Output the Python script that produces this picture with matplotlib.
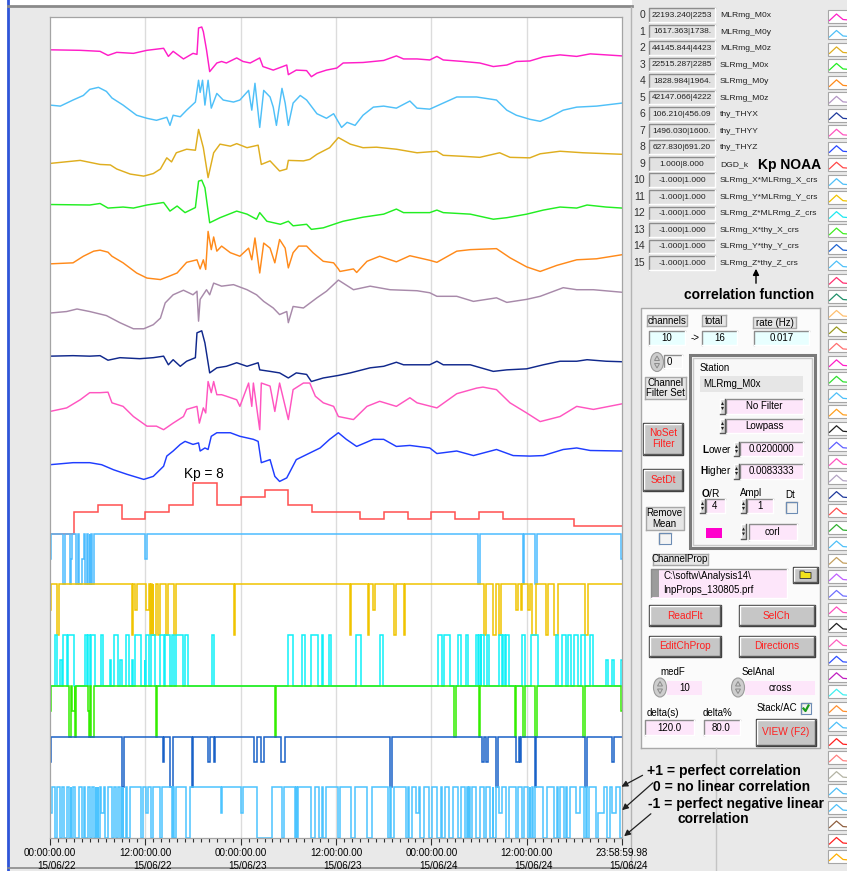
import numpy as np
import matplotlib.pyplot as plt
from matplotlib.patches import Rectangle, Ellipse, Polygon

plt.rcParams["font.family"] = ["Liberation Sans", "DejaVu Sans"]
plt.rcParams["mathtext.fontset"] = "custom"
plt.rcParams["mathtext.rm"] = "Liberation Sans"
plt.rcParams["mathtext.bf"] = "Liberation Sans:bold"

W, H = 847, 871
SPAN = 72.0          # hours on the time axis (15/06/22 00:00 -> 15/06/24 23:59)
BAND = 50.72         # pixel height of one channel strip

# ---------------------------------------------------------------- channels
chan_names = ["MLRmg_M0x", "MLRmg_M0y", "MLRmg_M0z", "SLRmg_M0x", "SLRmg_M0y",
              "SLRmg_M0z", "thy_THYX", "thy_THYY", "thy_THYZ", "DGD_k",
              "SLRmg_X*MLRmg_X_crs", "SLRmg_Y*MLRmg_Y_crs", "SLRmg_Z*MLRmg_Z_crs",
              "SLRmg_X*thy_X_crs", "SLRmg_Y*thy_Y_crs", "SLRmg_Z*thy_Z_crs"]
chan_ranges = ["22193.240|2253", "1617.363|1738.", "44145.844|4423", "22515.287|2285",
               "1828.984|1964.", "42147.066|4222", "106.210|456.09", "1496.030|1600.",
               "627.830|691.20", "1.000|8.000"] + ["-1.000|1.000"] * 6
chan_colors = ["#ff1ec8", "#4fc0f8", "#dfae1f", "#22ee22", "#ff8a1a", "#a88aaa",
               "#10288c", "#ff55c0", "#1f3dff", "#ff5050", "#4cbcff", "#f0c400",
               "#10f0f8", "#33ee00", "#1a62c8", "#4cc4ff"]
legend_colors = ["#ff1ec8", "#4fc0f8", "#dfae1f", "#22ee22", "#ff8a1a", "#b496c4",
                 "#203a9c", "#ff55c0", "#2a48ff", "#ff4848", "#4fc0f8", "#f0c400",
                 "#20e8f0", "#40ee20", "#2064d0", "#4fc0f8", "#ff3070", "#20906a",
                 "#ffc070", "#9a9a20", "#ff7070", "#ff1ec8", "#30e030", "#4fc0f8",
                 "#ffa020", "#202020", "#6060ff", "#ff55c0", "#b4a4c4", "#203a9c",
                 "#ff5050", "#30b030", "#4fc0f8", "#c4a060", "#c060ff", "#7070ff",
                 "#ff50c0", "#202020", "#ff60c0", "#3050ff", "#c020c0", "#40f0f0",
                 "#ff9030", "#4fc0f8", "#ff2020", "#ff8080", "#b4b4a4", "#4fc0f8",
                 "#4fc0f8", "#906040", "#ff2020", "#ffb000"]

# time-axis ticks
tick_hours = [0, 12, 24, 36, 48, 60, 72]
tick_times = ["00:00:00.00", "12:00:00.00", "00:00:00.00", "12:00:00.00",
              "00:00:00.00", "12:00:00.00", "23:58:59.98"]
tick_dates = ["15/06/22", "15/06/22", "15/06/23", "15/06/23",
              "15/06/24", "15/06/24", "15/06/24"]

# ------------------------------------------------ magnetometer traces
# hours and level in percent of the channel's min|max range
h0 = [0, 3.8, 6.3, 7.3, 8.4, 10.5, 12.2, 14.3, 14.9, 15.5, 16.8, 18.0, 18.5, 18.7,
      19.1, 19.3, 19.7, 20.1, 21.0, 21.6, 22.2, 23.5, 24.3, 25.2, 26.4, 26.8, 28.1,
      29.8, 30.0, 31.0, 32.3, 32.9, 33.6, 34.8, 36.1, 36.9, 39.4, 42.0, 43.6, 44.5,
      46.2, 47.8, 48.7, 49.5, 52.0, 54.1, 55.8, 57.5, 58.7, 60.4, 62.1, 64.2, 66.3,
      68.0, 70.0, 72.0]
v0 = [54, 53, 51, 43, 49, 47, 53, 57, 41, 51, 36, 47, 45, 97, 99, 90, 54, 11, 28, 31,
      28, 38, 31, 28, 38, 21, 14, 24, 5, 14, 13, 1, 8, 14, 18, 28, 29, 33, 42, 36, 36,
      34, 41, 34, 31, 28, 21, 24, 31, 32, 40, 44, 41, 46, 44, 42]

h1 = [0, 1.3, 2.9, 4.2, 5.0, 6.1, 7.1, 7.8, 9.2, 10.9, 12.2, 13.4, 14.7, 15.1, 15.5,
      16.4, 17.2, 18.3, 18.7, 18.9, 19.2, 19.5, 19.9, 20.3, 21.0, 21.8, 23.1, 23.9,
      25.0, 25.4, 25.8, 26.4, 26.9, 27.7, 28.1, 28.5, 29.2, 29.6, 30.0, 30.6, 31.5,
      32.3, 33.6, 34.8, 35.7, 36.7, 37.4, 38.4, 39.4, 40.7, 42.0, 43.6, 45.3, 46.2,
      47.8, 49.5, 51.2, 53.7, 56.2, 57.5, 58.7, 60.4, 61.7, 62.9, 64.6, 66.3, 68.8, 72.0]
v1 = [45, 43, 55, 64, 76, 80, 72, 59, 45, 25, 19, 15, 21, 5, 25, 22, 35, 51, 94, 70,
      94, 45, 94, 39, 68, 55, 51, 55, 74, 35, 88, 1, 74, 61, 41, 5, 78, 49, 5, 49, 64,
      55, 28, 19, 28, 1, 11, 5, 25, 41, 43, 39, 53, 39, 37, 49, 61, 61, 55, 35, 25, 17,
      13, 21, 35, 41, 43, 49]

h2 = [0, 3.8, 6.3, 7.6, 8.4, 10.1, 11.8, 13.0, 13.9, 14.7, 15.3, 15.9, 17.2, 18.3,
      18.7, 19.3, 19.9, 20.6, 21.4, 22.7, 23.5, 24.8, 26.2, 26.6, 27.7, 28.9, 29.8,
      30.0, 31.9, 32.7, 33.6, 35.2, 36.3, 37.8, 39.4, 41.1, 43.6, 46.2, 48.7, 49.5,
      52.0, 54.1, 56.6, 57.9, 60.4, 61.7, 64.2, 67.1, 72.0]
v2 = [30, 36, 28, 27, 19, 9, 5, 10, 19, 41, 33, 51, 58, 56, 97, 61, 2, 51, 68, 64, 69,
      61, 66, 28, 35, 15, 19, 36, 35, 38, 48, 61, 81, 68, 61, 62, 58, 51, 54, 46, 44,
      42, 51, 42, 41, 49, 54, 51, 48]

h3 = [0, 5.0, 6.3, 7.3, 9.2, 10.5, 12.2, 14.3, 15.1, 16.0, 17.0, 18.3, 18.7, 19.1,
      19.5, 20.1, 21.4, 23.5, 24.8, 26.0, 26.4, 27.3, 29.0, 30.0, 30.6, 32.3, 32.9,
      34.4, 36.3, 36.9, 39.4, 42.0, 43.6, 44.5, 47.8, 48.7, 49.5, 52.9, 55.8, 57.5,
      60.0, 62.1, 64.2, 66.3, 67.6, 70.0, 72.0]
v3 = [49, 48, 51, 42, 44, 42, 48, 53, 36, 46, 33, 43, 95, 97, 82, 13, 23, 36, 30, 20,
      33, 16, 10, 16, 7, 10, 0, 3, 13, 16, 24, 30, 40, 33, 33, 38, 33, 30, 20, 23, 30,
      38, 44, 42, 48, 44, 42]

h4 = [0, 2.9, 4.2, 5.5, 6.3, 7.3, 7.8, 9.2, 10.9, 12.2, 13.9, 14.9, 16.0, 17.2, 18.5,
      18.9, 19.3, 19.6, 19.9, 20.3, 20.6, 21.0, 21.6, 22.7, 23.9, 25.0, 25.4, 25.8,
      26.4, 26.9, 27.7, 28.3, 28.9, 29.6, 30.0, 30.6, 31.3, 32.3, 33.1, 34.4, 35.7,
      36.3, 36.5, 38.2, 38.6, 39.9, 41.5, 43.6, 45.3, 47.8, 48.7, 51.2, 52.9, 56.2,
      57.9, 60.0, 61.7, 63.8, 66.3, 68.8, 72.0]
v4 = [32, 34, 47, 57, 59, 55, 47, 34, 14, 4, 1, 7, 14, 35, 40, 22, 40, 21, 96, 60, 85,
      57, 67, 54, 47, 63, 40, 83, 14, 73, 63, 34, 80, 63, 24, 54, 67, 67, 54, 37, 34,
      22, 17, 22, 15, 37, 47, 36, 48, 39, 35, 57, 60, 62, 44, 26, 17, 29, 40, 42, 50]

h5 = [0, 2.1, 3.4, 5.0, 7.1, 8.8, 10.5, 11.8, 13.0, 13.9, 14.5, 15.5, 16.8, 18.0,
      18.5, 18.7, 18.9, 19.7, 20.1, 20.6, 21.6, 23.1, 24.8, 26.0, 26.9, 28.1, 28.9,
      29.8, 30.0, 30.6, 31.9, 33.6, 34.8, 36.3, 38.2, 40.3, 42.8, 46.2, 47.8, 48.7,
      51.2, 53.3, 56.2, 57.5, 60.0, 61.7, 64.6, 66.3, 68.4, 72.0]
v5 = [35, 38, 43, 38, 30, 16, 4, 4, 12, 25, 55, 71, 80, 71, 78, 19, 62, 81, 71, 94,
      88, 91, 81, 71, 58, 45, 32, 38, 16, 48, 45, 65, 78, 100, 81, 88, 81, 79, 75, 68,
      68, 58, 65, 56, 62, 68, 85, 81, 81, 76]

h6 = [0, 2.9, 5.0, 6.3, 7.3, 8.8, 11.3, 13.0, 14.3, 14.9, 15.5, 16.4, 17.2, 18.3,
      18.5, 19.1, 19.5, 20.1, 21.0, 22.2, 23.5, 24.8, 26.2, 26.4, 27.7, 28.9, 30.0,
      31.0, 32.3, 32.9, 34.4, 36.3, 37.8, 40.3, 42.0, 43.6, 44.5, 47.8, 48.7, 49.5,
      52.9, 55.8, 57.5, 60.0, 62.1, 64.2, 66.3, 67.6, 70.0, 72.0]
v6 = [50, 51, 50, 51, 42, 47, 45, 47, 50, 33, 43, 30, 40, 47, 96, 100, 76, 17, 27, 30,
      37, 30, 37, 23, 20, 17, 7, 17, 14, 0, 7, 12, 17, 27, 30, 38, 33, 33, 40, 33, 33,
      20, 23, 25, 33, 40, 40, 43, 40, 39]

h7 = [0, 2.1, 3.8, 5.0, 6.3, 7.3, 7.8, 9.2, 10.5, 12.2, 13.4, 14.3, 15.5, 16.8, 17.2,
      18.5, 18.8, 19.3, 19.6, 19.9, 20.3, 20.6, 21.0, 21.6, 22.2, 23.5, 23.9, 25.0,
      25.4, 25.6, 26.4, 26.6, 27.7, 28.3, 28.9, 30.0, 30.6, 31.9, 32.7, 33.4, 34.4,
      35.7, 36.3, 38.2, 39.9, 41.5, 43.6, 45.3, 46.2, 48.7, 51.2, 53.7, 54.5, 56.2,
      57.9, 60.0, 61.7, 64.2, 66.3, 68.4, 72.0]
v7 = [41, 48, 64, 78, 78, 79, 58, 51, 31, 12, 12, 5, 18, 31, 45, 51, 18, 48, 38, 100,
      78, 100, 74, 74, 71, 64, 51, 97, 51, 97, 5, 97, 91, 41, 97, 25, 84, 97, 97, 71,
      58, 51, 31, 25, 51, 61, 51, 68, 58, 48, 76, 87, 89, 84, 58, 38, 21, 31, 51, 45, 56]

h8 = [0, 2.9, 5.0, 6.5, 8.0, 9.7, 11.8, 13.0, 14.3, 14.7, 15.5, 16.4, 17.0, 18.0,
      18.7, 18.9, 19.5, 19.9, 20.3, 21.0, 22.7, 23.9, 25.6, 26.2, 26.6, 27.7, 28.3,
      28.9, 29.8, 31.0, 32.3, 34.0, 35.2, 36.3, 37.3, 38.6, 40.7, 42.0, 43.6, 45.3,
      47.8, 48.7, 51.2, 53.3, 56.2, 58.3, 60.4, 62.1, 64.6, 66.3, 68.0, 72.0]
v8 = [36, 40, 40, 36, 26, 17, 7, 13, 33, 53, 63, 76, 82, 76, 79, 63, 69, 66, 92, 99,
      99, 92, 86, 82, 40, 46, 13, 3, 10, 46, 56, 69, 86, 99, 86, 72, 86, 86, 72, 74,
      69, 58, 63, 54, 66, 54, 53, 54, 66, 69, 64, 63]

# 3-hourly Kp index (NOAA)
kp_values = [1, 4, 5, 3, 4, 5, 8, 5, 6, 7, 5, 4, 4, 3, 4, 3, 4, 3, 4, 3, 3, 3, 2, 2]

# ------------------------------------------- cross-correlation channels
# each channel sits on a baseline (+1 or -1); listed are the intervals
# (start h, end h, value) where it leaves that baseline
corr10 = [(0, 0.15, 0), (1.6, 1.9, -1), (2.5, 2.7, -1), (2.7, 2.8, 0), (3.3, 3.55, -1),
          (3.7, 4.0, -1), (4.0, 4.3, 0), (4.4, 4.6, -1), (4.8, 5.0, -1), (5.05, 5.2, -1),
          (5.25, 5.5, -1), (12.0, 12.15, 0), (53.9, 54.1, -1), (59.5, 59.7, -1),
          (61.1, 61.3, -1), (71.9, 72.0, 0)]
corr11 = [(0, 0.15, 0), (0.92, 1.16, -1), (10.3, 10.5, -1), (10.7, 10.9, 0),
          (12.1, 12.5, 0), (12.6, 12.75, -1), (12.8, 12.95, -1), (13.0, 13.3, -1),
          (13.6, 13.8, -1), (14.6, 14.9, -1), (15.6, 15.8, -1), (23.1, 23.3, -1),
          (37.8, 37.95, -1), (40.0, 40.2, -1), (40.7, 40.85, 0), (43.3, 43.5, -1),
          (44.5, 44.7, -1), (54.6, 54.9, -1), (55.8, 56.1, -1), (56.5, 56.8, -1),
          (58.7, 58.9, 0), (59.3, 59.45, 0), (60.2, 60.4, 0), (60.7, 61.2, -1),
          (62.4, 62.7, -1), (63.5, 64.0, -1), (67.4, 67.7, -1)]
corr12 = [(0.67, 0.92, 1), (1.25, 1.54, 0), (1.64, 2.2, 1), (2.3, 3.0, 1), (4.4, 4.7, 1),
          (4.75, 5.0, 1), (5.1, 5.7, 1), (6.45, 6.7, 1), (7.56, 7.7, 0), (8.0, 8.5, 1),
          (8.86, 9.0, 0), (9.6, 9.9, 1), (10.3, 10.5, 0), (10.7, 11.4, 1), (11.9, 12.0, 0),
          (12.04, 12.5, 1), (12.7, 13.2, 1), (13.9, 14.4, 1), (14.5, 15.1, 1),
          (15.3, 15.6, 1), (15.85, 16.7, 1), (17.05, 17.4, 1), (20.4, 20.7, 1),
          (30.0, 30.6, 1), (31.7, 32.1, 1), (32.8, 33.7, 1), (34.2, 34.4, 1),
          (35.1, 35.4, 1), (38.5, 39.1, 1), (41.6, 41.9, 1), (48.8, 49.4, 1),
          (49.6, 50.4, 1), (51.4, 51.7, 1), (52.4, 52.6, 1), (53.6, 53.9, 1),
          (54.0, 54.2, 1), (54.3, 54.6, 1), (55.0, 55.2, 1), (56.5, 56.9, 1),
          (57.0, 57.3, 1), (57.4, 57.8, 1), (59.4, 59.8, 1), (60.5, 61.4, 1),
          (63.7, 63.9, 1), (64.5, 65.0, 1), (65.2, 65.6, 1), (66.0, 66.4, 1),
          (66.9, 67.3, 1), (68.0, 68.4, 1), (70.0, 70.3, 0), (70.8, 71.0, 0),
          (71.9, 72.0, 0)]
corr13 = [(0, 0.15, 0), (2.4, 2.6, -1), (2.75, 3.1, 0), (3.2, 3.3, -1), (4.8, 4.9, 0),
          (4.9, 5.0, -1), (5.1, 5.5, -1), (13.4, 13.5, -1), (28.3, 28.4, -1),
          (50.8, 51.1, -1), (54.0, 54.1, -1), (58.5, 58.7, -1), (59.5, 59.8, -1),
          (61.0, 61.3, -1), (67.1, 67.4, -1), (71.9, 72.0, 0)]
corr14 = [(0, 0.15, 0), (9.1, 9.35, -1), (14.2, 14.3, 0), (15.1, 15.5, -1),
          (17.85, 17.95, -1), (19.9, 20.2, 0), (20.6, 20.8, 0), (25.7, 26.0, 0),
          (26.6, 26.9, 0), (29.1, 29.6, 0), (42.8, 43.1, -1), (54.4, 54.6, 0),
          (54.9, 55.1, 0), (56.2, 56.4, -1), (58.7, 59.0, 0), (59.2, 59.3, 0),
          (61.1, 61.2, -1), (67.4, 67.6, -1), (70.8, 71.0, 0)]
corr15 = [(0, 0.3, 0), (0.64, 0.85, -1), (1.3, 1.57, -1), (1.82, 2.18, -1), (2.44, 2.6, -1),
          (2.7, 2.85, -1), (3.2, 3.7, -1), (4.0, 4.3, -1), (4.45, 4.75, -1), (5.0, 5.3, -1),
          (5.6, 5.8, -1), (5.85, 6.0, -1), (6.05, 6.3, -1), (6.45, 6.8, 0), (6.96, 7.3, -1),
          (7.84, 8.1, -1), (8.35, 8.6, -1), (8.86, 9.0, -1), (9.05, 9.2, -1),
          (9.25, 9.6, -1), (9.74, 10.1, -1), (11.4, 11.7, -1), (12.1, 12.3, 0),
          (12.7, 13.0, -1), (13.85, 14.1, -1), (15.3, 15.5, -1), (15.55, 15.9, -1),
          (17.1, 17.6, -1), (21.5, 21.7, 0), (24.0, 24.3, 0), (26.1, 28.0, -1),
          (29.2, 29.4, -1), (30.8, 31.0, -1), (31.05, 31.2, -1), (32.8, 33.3, -1),
          (33.8, 34.3, -1), (34.4, 34.8, -1), (36.2, 36.5, -1), (37.9, 38.4, -1),
          (39.9, 40.5, -1), (42.5, 42.8, -1), (42.9, 43.3, -1), (44.8, 45.1, -1),
          (45.2, 45.6, -1), (46.1, 46.5, 0), (46.6, 47.1, -1), (47.7, 48.1, -1),
          (48.7, 49.2, -1), (49.3, 49.7, -1), (50.2, 50.7, -1), (51.4, 51.7, -1),
          (52.2, 52.5, -1), (52.6, 52.8, -1), (52.85, 53.1, -1), (53.6, 54.1, -1),
          (54.6, 54.9, -1), (55.4, 55.7, -1), (55.8, 56.1, -1), (56.5, 56.9, 0),
          (57.4, 57.8, -1), (58.6, 58.9, -1), (59.4, 59.7, -1), (60.2, 60.4, -1),
          (60.45, 60.7, -1), (60.75, 61.0, -1), (62.0, 62.6, -1), (63.5, 63.8, -1),
          (63.9, 64.2, -1), (64.7, 65.0, -1), (65.1, 65.5, -1), (66.2, 66.7, 0),
          (67.2, 67.5, -1), (67.6, 67.9, -1), (68.7, 69.0, -1), (69.0, 69.7, 0),
          (70.1, 70.5, -1), (70.8, 71.3, 0), (71.7, 72.0, -1)]
corr_base = [1, 1, -1, 1, 1, 1]


def excursion_steps(base, events):
    edges, vals, cur = [0.0], [], 0.0
    for t0, t1, v in events:
        if t0 > cur:
            vals.append(base)
            edges.append(t0)
        vals.append(v)
        edges.append(t1)
        cur = t1
    if cur < SPAN:
        vals.append(base)
        edges.append(SPAN)
    return np.array(edges), np.array(vals, dtype=float)


# ------------------------------------------------------------- figure
fig = plt.figure(figsize=(W / 100, H / 100), dpi=100, facecolor="#e9e9e9")
g = fig.add_axes([0, 0, 1, 1], zorder=0)
g.set_xlim(0, W)
g.set_ylim(H, 0)
g.axis("off")


def box(x0, y0, x1, y1, fc, edge=None, z=2):
    g.add_patch(Rectangle((x0, y0), x1 - x0, y1 - y0, fc=fc, ec="none", zorder=z))
    if edge is None:
        return
    tl, br = {"sunken": ("#8c8c8c", "#ffffff"), "raised": ("#ffffff", "#5a5a5a"),
              "flat": ("#a8a8a8", "#a8a8a8")}[edge]
    g.plot([x0, x0, x1], [y1, y0, y0], color=tl, lw=1, zorder=z + 0.1)
    g.plot([x0, x1, x1], [y1, y1, y0], color=br, lw=1, zorder=z + 0.1)


def label(x, y, s, size=7, ha="left", color="black", weight="normal", **kw):
    g.text(x, y, s, fontsize=size, ha=ha, va="center", color=color,
           fontweight=weight, zorder=6, **kw)


def spin(x, y0, y1):
    box(x, y0, x + 5, y1, "#d6d6d6", "raised", z=3)
    m = (y0 + y1) / 2
    g.add_patch(Polygon([(x + 1, m - 1), (x + 4, m - 1), (x + 2.5, m - 4)], fc="#202020", zorder=4))
    g.add_patch(Polygon([(x + 1, m + 1), (x + 4, m + 1), (x + 2.5, m + 4)], fc="#202020", zorder=4))


def oval_spin(cx, cy):
    g.add_patch(Ellipse((cx, cy), 13, 19, fc="#cdcdcd", ec="#9a9a9a", lw=0.8, zorder=3))
    g.add_patch(Polygon([(cx - 2.5, cy - 1.5), (cx + 2.5, cy - 1.5), (cx, cy - 6)],
                        fc="none", ec="#8a8a8a", lw=0.7, zorder=4))
    g.add_patch(Polygon([(cx - 2.5, cy + 1.5), (cx + 2.5, cy + 1.5), (cx, cy + 6)],
                        fc="none", ec="#8a8a8a", lw=0.7, zorder=4))


def button(x0, y0, x1, y1, text, color="#ff2020", size=7.3):
    g.add_patch(Rectangle((x0 - 1, y0 - 1), x1 - x0 + 2, y1 - y0 + 2, fc="none",
                          ec="#3c3c3c", lw=1, zorder=3))
    box(x0, y0, x1, y1, "#c6c6c6", "raised", z=3)
    label((x0 + x1) / 2, (y0 + y1) / 2, text, size=size, ha="center", color=color,
          linespacing=1.15)


def checkbox(x0, y0, x1, y1, checked=False):
    box(x0, y0, x1, y1, "#f4f4f4", "sunken", z=3)
    g.add_patch(Rectangle((x0, y0), x1 - x0, y1 - y0, fc="none", ec="#6c8cb4", lw=0.8, zorder=4))
    if checked:
        g.plot([x0 + 2.5, x0 + 4.5, x1 - 2.5], [y0 + 5.5, y1 - 2.5, y0 + 2.5],
               color="#1a9a1a", lw=1.6, zorder=5)


# window frame around the plot panel
g.add_patch(Rectangle((0, 0), 9, H, fc="white", ec="none", zorder=1))
g.add_patch(Rectangle((0, 0), 632, 6, fc="white", ec="none", zorder=1))
g.plot([8, 8], [0, H], color="#2f55d8", lw=2, zorder=2)
g.plot([8, 632], [6.5, 6.5], color="#8a8a8a", lw=2, zorder=2)
g.plot([8, 642], [868, 868], color="#8a8a8a", lw=1.2, zorder=2)
g.plot([631, 631], [7, 868], color="#b4b4b4", lw=1, zorder=2)
g.plot([716, 716], [748, H], color="#c4c4c4", lw=1, zorder=2)

# ----------------------------------------------------------- trace plot
ax = fig.add_axes([50 / W, 1 - 838 / H, 572 / W, 821 / H], zorder=1)
ax.set_facecolor("white")
ax.set_xlim(0, SPAN)
ax.set_ylim(0, 821 / BAND)
for s in ax.spines.values():
    s.set_color("#a4a4a4")
    s.set_linewidth(0.9)
for t in tick_hours[1:-1]:
    ax.axvline(t, color="#dcdcdc", lw=1, zorder=0)

wave_h = [h0, h1, h2, h3, h4, h5, h6, h7, h8]
wave_v = [v0, v1, v2, v3, v4, v5, v6, v7, v8]
for i, (hh, vv) in enumerate(zip(wave_h, wave_v)):
    ax.plot(hh, 15 - i + np.array(vv) / 100.0, color=chan_colors[i], lw=1.05,
            solid_joinstyle="round", zorder=2)

kp_edges = np.arange(0, SPAN + 1, 3)
ax.stairs(6 + (np.array(kp_values) - 1) / 7.0, kp_edges, baseline=None,
          color=chan_colors[9], lw=1.1, zorder=2)
ax.text(19.4, 6 + 1 + 0.04, "Kp = 8", fontsize=9.8, ha="center", va="bottom")

corr_events = [corr10, corr11, corr12, corr13, corr14, corr15]
for k, (base, ev) in enumerate(zip(corr_base, corr_events)):
    ch = 10 + k
    edges, vals = excursion_steps(base, ev)
    ax.stairs(15 - ch + (vals + 1) / 2.0, edges, baseline=None,
              color=chan_colors[ch], lw=1.1, zorder=2)

ax.set_yticks([])
ax.set_xticks(tick_hours, [f"{t}\n{d}" for t, d in zip(tick_times, tick_dates)],
              fontsize=7.1, multialignment="right", linespacing=1.3)
ax.set_xticks(np.arange(0, SPAN + 1, 1), minor=True)
ax.tick_params(axis="x", which="major", length=5, width=0.8, color="#303030", pad=2.5)
ax.tick_params(axis="x", which="minor", length=3, width=0.8, color="#303030")

# --------------------------------------------------------- channel list
for i in range(16):
    y = 15 + 16.53 * i
    label(645, y, str(i), size=7.5, ha="right", color="#303030")
    box(649, y - 6.8, 715, y + 6.8, "#e2e2e2", "sunken")
    label(682, y + 0.3, chan_ranges[i], size=6.0, ha="center", color="#202020")
    label(720, y + 0.5, chan_names[i], size=6.1, color="#202020")

for i, c in enumerate(legend_colors):
    y = 16.5 + 16.47 * i
    g.add_patch(Rectangle((828, y - 6.5), 24, 13, fc="white", ec="#a6a6a6", lw=0.8, zorder=3))
    g.plot([829.5, 836.5, 843, 849], [y + 4, y - 2.5, y + 3, y + 3.5], color=c, lw=0.9, zorder=4)

label(758, 165, "Kp NOAA", size=10, weight="bold")
label(684, 295, "correlation function", size=10, weight="bold")
g.annotate("", xy=(756, 266), xytext=(756, 286),
           arrowprops=dict(arrowstyle="-|>", color="black", lw=1, mutation_scale=9), zorder=6)

# --------------------------------------------------------- control panel
box(641, 308, 820, 748, "#fbfbfb", "flat", z=1.5)

for (x0, x1, y0, y1, t) in [(647, 687, 315, 326.5, "channels"), (702, 726, 315, 326.5, "total"),
                            (753, 796, 317, 328, "rate (Hz)")]:
    box(x0, y0, x1, y1, "#e6e6e6", "flat")
    label((x0 + x1) / 2, (y0 + y1) / 2, t, size=7, ha="center")
for (x0, x1, t) in [(649, 685, "10"), (702, 737, "16"), (754, 809, "0.017")]:
    box(x0, 331, x1, 345, "#e8ffff", "sunken")
    label((x0 + x1) / 2, 338, t, size=7, ha="center")
label(695.5, 338, "->", size=7, ha="center")

oval_spin(657, 362)
box(664, 355, 682, 368, "#f8f8f8", "sunken")
label(667, 361.5, "0", size=7)
box(645, 377, 686, 399, "#e6e6e6", "flat")
label(665.5, 388, "Channel\nFilter Set", size=7, ha="center", linespacing=1.05)

# station frame
g.add_patch(Rectangle((689.5, 355), 125.5, 193, fc="#f8f8f8", ec="#7a7a7a", lw=2.2, zorder=2))
g.add_patch(Rectangle((692.5, 358), 119.5, 187, fc="none", ec="#c8c8c8", lw=1, zorder=2.2))
label(700, 368, "Station", size=7)
box(699.5, 376, 803, 392, "#e6e6e6")
label(703, 384, "MLRmg_M0x", size=7)
for (y0, y1, t) in [(398.5, 413.5, "No Filter"), (419, 433, "Lowpass")]:
    spin(720, y0, y1)
    box(726, y0, 803, y1, "#fde6fa", "sunken")
    label(764.5, (y0 + y1) / 2, t, size=7, ha="center")
for (y0, y1, name, t) in [(442, 456, r"$\mathbf{L}$ower", "0.0200000"),
                          (463.5, 478.5, r"$\mathbf{H}$igher", "0.0083333")]:
    label(732, (y0 + y1) / 2, name, size=7.3, ha="right")
    spin(734, y0, y1)
    box(740, y0, 803, y1, "#fde6fa", "sunken")
    label(771.5, (y0 + y1) / 2, t, size=7, ha="center")
label(701, 493, r"$\mathbf{O}$/R", size=7.3)
spin(700, 499, 513)
box(706, 499, 724.5, 513, "#fde6fa", "sunken")
label(715, 506, "4", size=7, ha="center")
label(751.5, 493, "Ampl", size=7, ha="center")
spin(741, 499, 513)
box(747, 499, 773, 513, "#fde6fa", "sunken")
label(760, 506, "1", size=7, ha="center")
label(790.5, 495, "Dt", size=7, ha="center")
checkbox(786, 502, 797, 513)
box(706, 528, 722, 538, "#ff00cc")
spin(741, 524, 539)
box(748.5, 523.5, 797, 539.5, "#fde6fa", "sunken")
label(772.5, 531.5, "corl", size=7, ha="center")

button(644, 423.5, 682, 454, "NoSet\nFilter")
button(644, 469.5, 682, 490, "SetDt")
box(645.5, 507, 684, 530, "#e6e6e6", "flat")
label(664.7, 518.5, "Remove\nMean", size=7, ha="center", linespacing=1.05)
checkbox(659, 532.5, 671, 543.5)

box(652.5, 553.5, 708, 564.5, "#e6e6e6", "flat")
label(680, 559, "ChannelProp", size=7, ha="center")
box(651, 568.5, 787, 597.5, "#fde6fa", "sunken")
box(651.5, 569, 659, 597, "#9c9c9c")
label(663, 576, "C:\\softw\\Analysis14\\", size=7)
label(663, 590, "InpProps_130805.prf", size=7)
button(794, 567.5, 817, 582, "")
g.add_patch(Polygon([(800, 571), (804, 571), (805, 572.5), (811, 572.5), (811, 578.5), (800, 578.5)],
                    fc="#f2e21c", ec="#404040", lw=0.7, zorder=5))

button(650, 606, 720, 625, "ReadFlt")
button(739.5, 606, 814, 625, "SelCh")
button(650, 636.5, 720, 656, "EditChProp")
button(739.5, 636.5, 814, 656, "Directions")

label(672.5, 672, "medF", size=7, ha="center")
oval_spin(660, 687.5)
box(667, 681, 702, 695, "#fde6fa")
label(684.5, 688, "10", size=7, ha="center")
label(758.5, 672, "SelAnal", size=7, ha="center")
oval_spin(738, 687.5)
box(745, 681, 815, 695, "#fde6fa")
label(780, 688, "cross", size=7, ha="center")

label(797, 708, "Stack/AC", size=7, ha="right")
checkbox(801, 703, 811, 713.5, checked=True)
label(647, 713, "delta(s)", size=7)
box(645, 719.5, 694, 735, "#fde6fa", "sunken")
label(669.5, 727.5, "120.0", size=7, ha="center")
label(703, 713, "delta%", size=7)
box(703.5, 719.5, 739.5, 735, "#fde6fa", "sunken")
label(721.5, 727.5, "80.0", size=7, ha="center")
button(757, 719.5, 814.5, 744.5, "VIEW (F2)")

# --------------------------------------------------- correlation legend
ov = fig.add_axes([0, 0, 1, 1], zorder=3)
ov.set_xlim(0, W)
ov.set_ylim(H, 0)
ov.axis("off")
ov.patch.set_alpha(0)
for (x, y, s) in [(647, 771, "+1 = perfect correlation"), (653, 787, "0 = no linear correlation"),
                  (648, 804, "-1 = perfect negative linear"), (677, 819, "correlation")]:
    ov.text(x, y, s, fontsize=10, fontweight="bold", ha="left", va="center")
for (xs, ys, xe, ye) in [(645, 774, 619, 788), (655, 781, 620, 812), (653, 812, 622, 838)]:
    ov.annotate("", xy=(xe, ye), xytext=(xs, ys),
                arrowprops=dict(arrowstyle="-|>", color="#202020", lw=0.9, mutation_scale=9))

fig.savefig("out.png", dpi=100, facecolor=fig.get_facecolor())
